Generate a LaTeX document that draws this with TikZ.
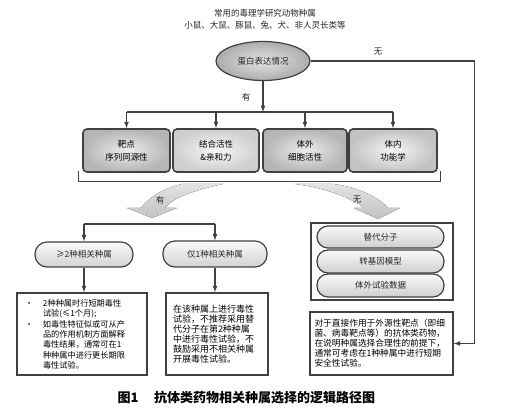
\documentclass[tikz,border=0pt]{standalone}
\usepackage{fontspec}
\setmainfont{Noto Sans CJK SC}
\usetikzlibrary{positioning, shapes.geometric}
\definecolor{linegray}{gray}{0.25}

\begin{document}
\begin{tikzpicture}[x=1pt, y=-1pt, >=latex,
    conn/.style={draw=linegray, line width=1.2pt},
    bigarrow/.style={top color=gray!22, bottom color=gray!48},
    textbox/.style={rectangle, draw=linegray, line width=1.6pt, align=left},
    plaintext/.style={font=\fontsize{8.5}{10}\selectfont, text=black!85}]
  \useasboundingbox (0,0) rectangle (507,419);
  % header
  \node (head1) [plaintext] at (265,13) {常用的毒理学研究动物种属};
  \node (head2) [plaintext] at (265,25.5) {小鼠、大鼠、豚鼠、兔、犬、非人灵长类等};
  \node (expr) [ellipse, draw=linegray, line width=1.2pt, inner color=gray!22, outer color=gray!65,
    minimum width=94pt, minimum height=39pt, plaintext] at (263,61) {蛋白表达情况};
  % four criteria
  \begin{scope}[every node/.style={rectangle, rounded corners=4pt, draw=linegray, line width=1.6pt,
      inner color=gray!15, outer color=gray!58, minimum height=43pt, align=center,
      font=\fontsize{8.5}{13}\selectfont}]
    \node (target) [minimum width=87pt] at (126.5,150.5) {靶点\\序列同源性};
    \node (binding) [minimum width=86pt, inner color=gray!6, outer color=gray!38] at (216,150.5) {结合活性\\\&亲和力};
    \node (invitro) [minimum width=84pt] at (305,150.5) {体外\\细胞活性};
    \node (invivo) [minimum width=88pt, inner color=gray!8, outer color=gray!48] at (393,150.5) {体内\\功能学};
  \end{scope}
  \coordinate (bus) at (263,112);
  \draw[conn, ->] (expr) -- (bus);
  \node (yes1) [plaintext] at (246,97) {有};
  \draw[conn] (bus -| target.north) -- (bus -| invivo.north);
  \foreach \n in {target, binding, invitro, invivo}
    \draw[conn, ->] (bus -| \n.north) -- (\n.north);
  \draw[conn] ([xshift=-4pt, yshift=2pt]target.south west) -- ([xshift=-4pt, yshift=-9pt]target.south west)
    -| ([xshift=3pt, yshift=2pt]invivo.south east);
  % big arrows
  \fill[bigarrow] (223,184) .. controls (195,190) and (172,198) .. (165,208) -- (177,208) -- (152,218)
    -- (127,208) -- (141,208) .. controls (150,196) and (165,188) .. (182,184) -- cycle;
  \fill[bigarrow] (295,184) .. controls (325,188) and (350,197) .. (364,208) -- (354,208) -- (378,219)
    -- (400,208) -- (388,208) .. controls (375,194) and (352,186) .. (333,184) -- cycle;
  \node (yes2) [plaintext] at (160,200) {有};
  \node (no2) [plaintext] at (357,200) {无};
  % related species
  \coordinate (split) at (150,224);
  \begin{scope}[every node/.style={rectangle, rounded corners=12pt, draw=linegray, line width=1.2pt,
      top color=gray!4, bottom color=gray!35, plaintext}]
    \node (many) [minimum width=98pt, minimum height=25pt] at (84,254.5) {≥2种相关种属};
    \node (single) [minimum width=104pt, minimum height=26pt] at (215,254) {仅1种相关种属};
  \end{scope}
  \draw[conn] (split -| many.north) -- (split -| single.north);
  \draw[conn, ->] (split -| many.north) -- (many.north);
  \draw[conn, ->] (split -| single.north) -- (single.north);
  \node (manytext) [textbox, text width=114pt, inner xsep=8pt, minimum height=82pt,
    font=\fontsize{8.2}{10.2}\selectfont] at (82,334) {%
    \makebox[18pt][l]{•}2种种属时行短期毒性\\
    \hspace*{18pt}试验(≤1个月);\\[1pt]
    \makebox[18pt][l]{•}如毒性特征似或可从产\\
    \hspace*{18pt}品的作用机制方面解释\\
    \hspace*{18pt}毒性结果，通常可在1\\
    \hspace*{18pt}种种属中进行更长期限\\
    \hspace*{18pt}毒性试验。};
  \node (singletext) [textbox, text width=88pt, inner xsep=7pt, minimum height=82pt,
    font=\fontsize{9}{10}\selectfont] at (217,334) {%
    在该种属上进行毒性\\试验，不推荐采用替\\代分子在第2种种属\\中进行毒性试验，不\\鼓励采用不相关种属\\开展毒性试验。};
  \draw[conn, ->] (many.south) -- (many.south |- manytext.north);
  \draw[conn, ->] (single.south) -- (single.south |- singletext.north);
  % no related species
  \node (altframe) [rectangle, draw=linegray, line width=1.6pt, minimum width=142pt, minimum height=77pt]
    at (382,261.5) {};
  \begin{scope}[every node/.style={rectangle, rounded corners=11pt, draw=linegray, line width=1.2pt,
      top color=gray!4, bottom color=gray!38, minimum width=127pt, plaintext}]
    \node (alt1) [minimum height=22pt] at (380.5,237) {替代分子};
    \node (alt2) [minimum height=23pt] at (380.5,261.5) {转基因模型};
    \node (alt3) [minimum height=23pt] at (380.5,285.5) {体外试验数据};
  \end{scope}
  \node (exotext) [textbox, text width=134pt, inner xsep=4.5pt, minimum height=63pt,
    font=\fontsize{8.7}{10}\selectfont] at (381.5,343.5) {%
    对于直接作用于外源性靶点（即细\\菌、病毒靶点等）的抗体类药物，\\在说明种属选择合理性的前提下，\\通常可考虑在1种种属中进行短期\\安全性试验。};
  \draw[conn, ->] (expr.east) -- ++(164,0) |- (exotext.east);
  \node (no1) [plaintext] at (378,52) {无};
  % caption
  \node (caption) [font=\fontsize{13}{15}\selectfont\bfseries] at (246.5,398)
    {图1\hspace{1.2em}抗体类药物相关种属选择的逻辑路径图};
\end{tikzpicture}
\end{document}
